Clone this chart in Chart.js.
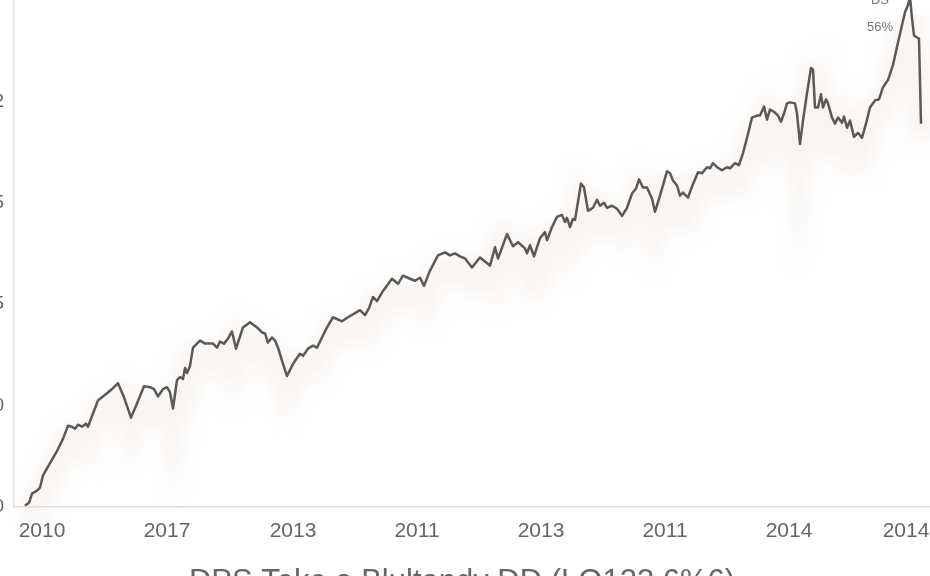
<!DOCTYPE html>
<html>
<head>
<meta charset="utf-8">
<script src="https://cdn.jsdelivr.net/npm/chart.js@4"></script>
<style>
  html, body { margin: 0; padding: 0; background: #fff; overflow: hidden; width: 930px; height: 576px; }
  #wrap { position: absolute; left: -40px; top: 0; width: 1004px; height: 601px; }
</style>
</head>
<body>
<div id="wrap"><canvas id="chart"></canvas></div>
<script>
// day offset from the start of the series, and the value on that day
const days = [
  0,4,7,12,15,18,25,32,38,43,
  47,50,53,57,61,63,68,73,82,88,
  93,99,106,112,119,125,129,133,138,142,
  145,148,152,155,158,160,162,165,168,175,
  180,188,192,195,199,203,207,211,218,225,
  232,237,240,243,247,250,253,258,262,267,
  270,275,278,283,288,292,297,302,308,317,
  323,330,335,340,344,348,352,358,367,373,
  378,385,390,395,399,405,413,420,425,430,
  435,440,447,455,465,470,473,482,488,493,
  500,502,505,509,515,520,522,527,532,537,
  540,542,545,548,550,556,559,563,568,572,
  575,579,582,587,592,597,602,607,611,614,
  618,622,627,630,635,642,645,648,652,655,
  658,663,667,673,677,682,685,688,692,697,
  702,705,710,714,718,722,727,732,735,739,
  742,745,750,753,756,759,762,765,770,772,
  775,778,782,786,788,790,793,796,798,801,
  803,807,810,813,817,819,822,825,829,833,
  837,841,845,850,854,858,863,868,873,877,
  880,883,885,887,889,892,894,896
];
const share = [
  0.1,0.4,1.3,1.6,1.9,3.1,4.3,5.5,6.7,8.0,
  7.9,7.7,8.1,7.9,8.2,7.9,9.2,10.5,11.2,11.7,
  12.2,10.8,8.8,10.2,11.9,11.8,11.6,10.9,11.6,11.8,
  11.3,9.7,12.5,12.8,12.6,13.7,13.2,13.9,15.7,16.4,
  16.1,16.1,15.7,16.3,16.1,16.6,17.3,15.6,17.7,18.2,
  17.7,17.2,17.1,16.2,16.7,16.4,15.7,14.1,12.9,13.9,
  14.4,15.1,14.9,15.6,15.9,15.7,16.7,17.7,18.7,18.3,
  18.7,19.1,19.4,18.9,19.6,20.7,20.3,21.3,22.5,22.0,
  22.8,22.5,22.3,22.6,21.8,23.3,24.8,25.1,24.8,25.0,
  24.7,24.5,23.6,24.6,23.8,25.6,24.5,26.9,25.7,26.1,
  25.5,25.0,25.8,24.7,26.5,27.1,26.3,27.6,28.6,28.8,
  28.1,28.5,27.6,28.4,28.3,31.9,31.5,29.2,29.5,30.3,
  29.7,30.0,29.5,29.7,29.4,28.7,29.5,30.9,31.4,32.3,
  31.5,31.5,30.4,29.1,30.7,33.1,32.9,32.2,31.7,30.7,
  31.0,30.5,31.6,33.0,32.9,33.5,33.4,33.9,33.5,33.2,
  33.5,33.4,33.9,33.7,34.9,36.4,38.4,38.6,38.6,39.5,
  38.2,39.2,38.9,38.6,38.0,38.8,39.8,39.9,39.8,38.8,
  35.8,38.1,40.8,43.3,43.1,39.4,39.4,40.7,39.4,40.2,
  39.8,38.4,37.8,38.4,37.9,38.5,37.4,38.1,36.5,36.9,
  36.4,37.8,39.4,40.1,40.2,41.4,42.1,43.6,45.8,47.5,
  48.8,49.5,50.3,48.2,46.5,46.3,46.2,37.8
];

const xTickDays   = [17, 142, 268, 392, 516, 640, 764, 881];
const xTickLabels = ['2010', '2017', '2013', '2011', '2013', '2011', '2014', '2014'];
const yTickValues = [0, 10, 20, 30, 40];
const yTickLabels = ['0', '10', '15', '25', '32'];
const peakNote = ['DS', '56%'];
const chartTitle = 'DPS Teke a Blultandy DD (LO123 6%6)';

const points = days.map((d, i) => ({ x: d, y: share[i] }));
const font = '"Liberation Sans", Arial, sans-serif';

// soft beige band under the line: same series, drawn wide, blurred, pushed down
const bandShadow = {
  id: 'bandShadow',
  beforeDatasetDraw(chart, args) {
    if (args.index !== 1) return;
    const ctx = chart.ctx;
    ctx.save();
    ctx.filter = 'blur(8px)';
    ctx.translate(0, 15);
  },
  afterDatasetDraw(chart, args) {
    if (args.index !== 1) return;
    chart.ctx.restore();
  }
};

const peakLabel = {
  id: 'peakLabel',
  afterDatasetsDraw(chart) {
    const { ctx, scales: { x, y } } = chart;
    const i = share.indexOf(Math.max(...share));
    const px = x.getPixelForValue(days[i]);
    const py = y.getPixelForValue(share[i]);
    ctx.save();
    ctx.font = '13px ' + font;
    ctx.fillStyle = '#777';
    ctx.textAlign = 'center';
    ctx.fillText(peakNote[0], px - 30, py + 7);
    ctx.fillText(peakNote[1], px - 30, py + 34);
    ctx.restore();
  }
};

new Chart(document.getElementById('chart'), {
  type: 'line',
  data: {
    datasets: [{
      data: points,
      borderColor: '#595959',
      borderWidth: 2.5,
      borderJoinStyle: 'round',
      pointRadius: 0,
      tension: 0,
      fill: false
    }, {
      data: points,
      borderColor: 'rgba(240, 228, 218, 0.42)',
      borderWidth: 24,
      pointRadius: 0,
      tension: 0,
      fill: false
    }]
  },
  plugins: [bandShadow, peakLabel],
  options: {
    responsive: true,
    maintainAspectRatio: false,
    animation: false,
    layout: { padding: 0 },
    plugins: {
      legend: { display: false },
      tooltip: { enabled: false },
      title: {
        display: true,
        position: 'bottom',
        text: chartTitle,
        color: '#666',
        font: { size: 31, weight: 'normal', family: font },
        padding: { top: 7, bottom: 0 }
      }
    },
    scales: {
      x: {
        type: 'linear',
        min: -11,
        max: 939,
        afterBuildTicks: s => { s.ticks = xTickDays.map(v => ({ value: v })); },
        afterFit: s => { s.height = 50; s.paddingLeft = 0; s.paddingRight = 0; },
        ticks: {
          callback: (v, i) => xTickLabels[i],
          color: '#666',
          font: { size: 21, family: font },
          padding: 12,
          maxRotation: 0,
          autoSkip: false
        },
        grid: { display: false, drawTicks: false },
        border: { color: '#dcdcdc', width: 1.5 }
      },
      y: {
        min: 0,
        max: 50,
        afterBuildTicks: s => { s.ticks = yTickValues.map(v => ({ value: v })); },
        afterFit: s => { s.width = 54; s.paddingTop = 0; s.paddingBottom = 0; },
        ticks: {
          callback: (v, i) => yTickLabels[i],
          color: '#666',
          font: { size: 19, family: font },
          padding: 10
        },
        grid: { display: false, drawTicks: false },
        border: { color: '#e2e2e2', width: 1.5 }
      }
    }
  }
});
</script>
</body>
</html>
